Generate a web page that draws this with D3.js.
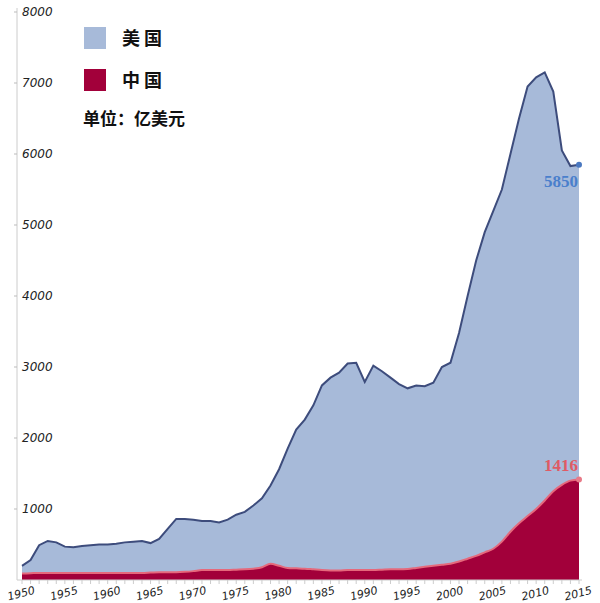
<!DOCTYPE html>
<html><head><meta charset="utf-8">
<script src="https://cdn.jsdelivr.net/npm/d3@7"></script>
<style>body{margin:0;background:#fff}</style></head>
<body><svg id="c" width="600" height="603"></svg>
<script>
const years = d3.range(1950, 2016);
const usa = [200,280,490,550,530,470,460,480,490,500,500,510,530,540,550,520,580,720,860,860,850,830,830,810,850,920,960,1050,1150,1330,1560,1850,2120,2260,2460,2740,2850,2920,3050,3060,2790,3020,2940,2850,2760,2700,2740,2730,2780,3000,3060,3480,4000,4500,4900,5200,5500,6000,6500,6950,7080,7150,6880,6050,5830,5850];
const china = [90,95,100,100,100,100,100,100,100,100,100,100,100,100,100,105,110,110,110,115,125,140,140,140,140,145,150,160,180,230,200,170,165,160,150,140,135,135,140,140,140,140,145,150,150,155,170,185,200,215,230,260,300,340,390,440,540,680,800,900,1000,1120,1250,1340,1400,1416];
const yTicks = [1000,2000,3000,4000,5000,6000,7000,8000];
const xTicks = d3.range(1950, 2016, 5);

const svg = d3.select("#c");
const x = d3.scaleLinear().domain([1950,2015]).range([22,579]);
const y = d3.scaleLinear().domain([0,8000]).range([580,12]);

const usData = years.map((yr,i)=>({yr,v:usa[i]}));
const cnData = years.map((yr,i)=>({yr,v:china[i]}));

svg.append("path").datum(usData).attr("fill","#a7bad9")
  .attr("d", d3.area().x(d=>x(d.yr)).y0(y(0)).y1(d=>y(d.v)));
svg.append("path").datum(usData).attr("fill","none").attr("stroke","#3d4c7c").attr("stroke-width",2)
  .attr("d", d3.line().x(d=>x(d.yr)).y(d=>y(d.v)));
svg.append("path").datum(cnData).attr("fill","#a2003a")
  .attr("d", d3.area().curve(d3.curveMonotoneX).x(d=>x(d.yr)).y0(y(0)).y1(d=>y(d.v)));
svg.append("path").datum(cnData).attr("fill","none").attr("stroke","#e5697c").attr("stroke-width",2)
  .attr("d", d3.line().curve(d3.curveMonotoneX).x(d=>x(d.yr)).y(d=>y(d.v)));

// y axis
svg.append("line").attr("x1",17).attr("x2",17).attr("y1",8).attr("y2",580).attr("stroke","#ccc");
yTicks.forEach(t=>{
  svg.append("line").attr("x1",14).attr("x2",17).attr("y1",y(t)).attr("y2",y(t)).attr("stroke","#bbb");
  svg.append("text").attr("x",22).attr("y",y(t)+4).text(t)
    .attr("font-family","DejaVu Sans").attr("font-style","italic").attr("font-size",12).attr("fill","#222");
});
// x axis
svg.append("line").attr("x1",17).attr("x2",582).attr("y1",580).attr("y2",580).attr("stroke","#ccc");
years.forEach(yr=>{
  svg.append("line").attr("x1",x(yr)).attr("x2",x(yr)).attr("y1",580).attr("y2",584).attr("stroke","#ccc");
});
xTicks.forEach(t=>{
  svg.append("text").attr("transform",`translate(${x(t)},597) rotate(-14)`).attr("text-anchor","middle").text(t)
    .attr("font-family","DejaVu Sans").attr("font-style","italic").attr("font-size",11).attr("fill","#222");
});

// end points & labels
svg.append("circle").attr("cx",x(2015)).attr("cy",y(5850)).attr("r",3).attr("fill","#4a78c0");
svg.append("text").attr("x",x(2015)-1).attr("y",y(5850)+22).attr("text-anchor","end").text("5850")
  .attr("font-family","Liberation Serif").attr("font-weight","bold").attr("font-size",17).attr("fill","#4a7fcc");
svg.append("circle").attr("cx",x(2015)).attr("cy",y(1416)).attr("r",3).attr("fill","#e87a88");
svg.append("text").attr("x",x(2015)-1).attr("y",y(1416)-8).attr("text-anchor","end").text("1416")
  .attr("font-family","Liberation Serif").attr("font-weight","bold").attr("font-size",17).attr("fill","#e05a64");

// legend
const lg = [["美 国","#a7bad9",27],["中 国","#a2003a",69]];
lg.forEach(([t,c,yy])=>{
  svg.append("rect").attr("x",84).attr("y",yy).attr("width",22).attr("height",22).attr("fill",c);
  svg.append("text").attr("x",122).attr("y",yy+18).text(t).attr("font-family","Noto Sans CJK SC")
    .attr("font-weight","bold").attr("font-size",18).attr("fill","#111");
});
svg.append("text").attr("x",83).attr("y",125).text("单位：亿美元").attr("font-family","Noto Sans CJK SC")
  .attr("font-weight","bold").attr("font-size",17).attr("fill","#111");
</script></body></html>
